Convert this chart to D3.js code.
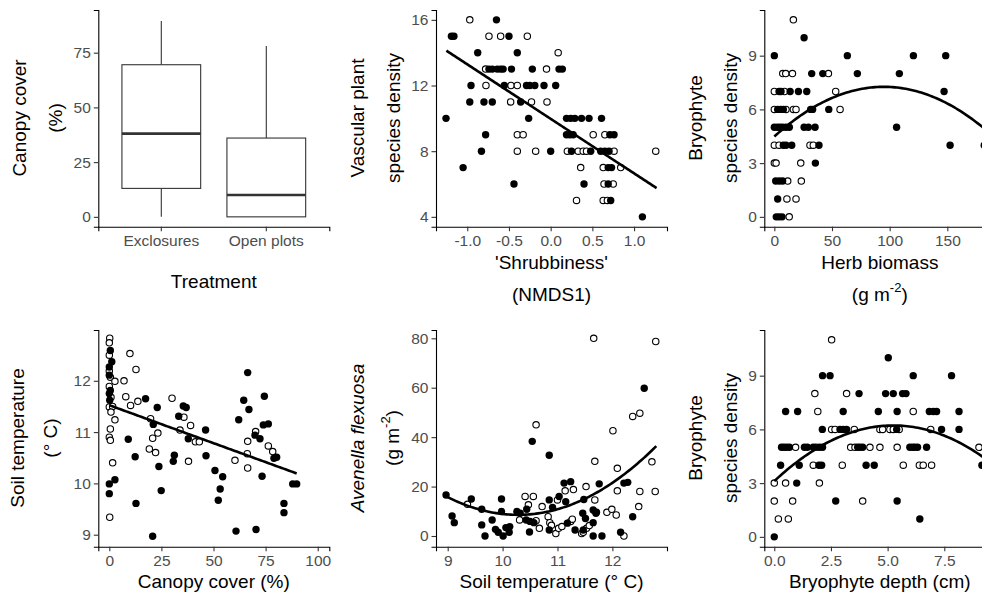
<!DOCTYPE html>
<html>
<head>
<meta charset="utf-8">
<script src="https://cdn.jsdelivr.net/npm/d3@7"></script>
<style>
  body { margin: 0; background: #fff; }
  svg { font-family: "Liberation Sans", Arial, sans-serif; }
</style>
</head>
<body>
<div id="chart"></div>
<script>
// Box plot: canopy cover by treatment
const boxCats = ["Exclosures", "Open plots"];
const boxMin = [0, 0];
const boxQ1 = [13, 0];
const boxMed = [38, 10];
const boxQ3 = [69.5, 36];
const boxMax = [89.5, 78];

// filled = exclosures, open = open plots
const vascExcl = [[-0.65,16],[-1.19,15],[-1.16,15],[-0.50,15],[-0.875,14],[-0.40,14],
  [-0.74,13],[-0.70,13],[-0.64,13],[-0.60,13],[-0.57,13],[-0.47,13],[-0.22,13],[0.10,13],[0.14,13],
  [-0.955,12],[-0.556,12],[-0.29,12],[-0.25,12],[-0.19,12],[-0.08,12],[0.06,12],
  [-0.97,11],[-0.80,11],[-0.70,11],[-0.36,11],
  [-1.255,10],[-0.264,10],[0.19,10],[0.24,10],[0.29,10],[0.37,10],[0.46,10],[0.61,10],
  [-0.78,9],[0.19,9],[0.23,9],[0.27,9],[0.71,9],[0.76,9],
  [-0.83,8],[0.0,8],[0.25,8],[0.48,8],[0.60,8],[0.65,8],[0.70,8],
  [-1.05,7],[0.69,7],[0.73,7],[-0.44,6],[0.40,6],[0.69,6],[0.72,5],[1.10,4]];
const vascOpen = [[-0.97,16],[-0.74,15],[-0.60,15],[-0.28,15],[0.09,14],[-0.78,13],[-0.05,13],
  [-0.776,12],[-0.476,12],[-0.40,12],[-0.48,11],[-0.23,11],[-0.044,11],
  [-0.40,9],[-0.33,9],[0.51,9],[0.65,9],
  [-0.40,8],[-0.18,8],[0.20,8],[0.33,8],[0.39,8],[0.43,8],[0.76,8],[1.26,8],
  [0.36,7],[0.63,7],[0.84,7],[0.64,6],[0.75,6],[0.31,5],[0.63,5],[0.68,5]];

const herbExcl = [[25.8,10],[0,9],[63.3,9],[120.6,9],[148.6,9],
  [32.4,8],[42,8],[72,8],[108.4,8],
  [4.1,7],[5.8,7],[13.7,7],[20.9,7],[28.1,7],[147.2,7],
  [2.9,6],[5.5,6],[7.8,6],[31.5,6],[33.2,6],[47.2,6],
  [0,5],[2.6,5],[4.9,5],[7.2,5],[10.1,5],[13,5],[25.8,5],[29.5,5],[35.3,5],[106,5],
  [7.8,4],[10.1,4],[15.1,4],[38.7,4],[152.4,4],[182,4],
  [35.6,3],[1.2,2],[4.3,2],[7.2,2],[2.9,1],[1.7,0],[4.1,0],[6.7,0]];
const herbOpen = [[16.5,11],[7.3,8],[9.9,8],[15.7,8],[46.9,8],[0,7],[8.8,7],[53.2,7],
  [0,6],[10.1,6],[16.5,6],[18.8,6],[57,6],[0,4],[4.1,4],[30.9,4],[33.8,4],
  [0,3],[1.5,3],[22.9,3],[11.6,2],[23.4,2],[10.9,1],[18.8,1],[12.9,0]];

const canopyExcl = [[0.5,12.59],[1.2,12.37],[0,12.27],[0,12.11],[0.5,11.81],[0,11.75],[0.2,11.62],
  [0,9.99],[2.7,10.07],[0,9.8],[17.4,11.65],[9.1,10.86],[12.4,10.52],[12.8,9.61],
  [21.1,11.15],[23.0,11.48],[23.8,10.33],[24.9,9.86],[20.8,8.97],
  [33.3,11.31],[35.5,11.51],[36.9,11.48],[37.9,10.87],[31.2,10.55],[30.7,10.43],
  [46.2,11.04],[46.4,10.54],[50.7,10.25],[54.4,10.13],[53.2,9.89],[52.3,9.67],
  [60.8,9.07],[66.4,12.16],[64.5,11.62],[67.0,11.44],[62.1,11.24],
  [69.9,10.94],[72.3,10.87],[70.4,9.10],[74.4,11.70],[73.9,11.14],[76.3,11.16],
  [79.0,10.49],[80.3,10.51],[73.3,10.14],[83.8,9.61],[83.8,9.43],[88.0,9.99],[89.9,9.99]];
const canopyOpen = [[0.2,12.83],[0,12.74],[0,12.5],[0,12.19],[0.5,12.07],[2.7,11.99],[0,11.89],
  [0.8,11.68],[0,11.49],[1.6,11.5],[0.8,11.39],[2.7,11.24],[0.5,11.06],[0,10.9],[0.5,10.84],
  [1.6,10.40],[0.2,9.34],[9.9,12.53],[12.8,12.22],[7.05,12.0],[7.9,11.69],[10.2,11.52],[13.7,11.6],
  [19.8,11.26],[20.8,10.88],[19.2,10.67],[22.2,10.6],[23.3,10.98],
  [30.1,11.66],[33.9,11.04],[35.8,11.29],[39.0,11.13],[41.3,10.81],[43.2,10.81],[38.0,10.43],
  [60.3,10.45],[66.4,10.82],[66.2,10.58],[66.4,10.30],[70.2,11.01],[76.3,10.73],[78.4,10.62]];

const avExcl = [[8.97,16.6],[9.08,8.1],[9.12,5.4],[9.43,15.0],[9.62,10.8],[9.62,4.5],[9.68,0],
  [9.81,6.5],[9.87,2.7],[9.92,1.5],[9.98,15.0],[9.98,9.9],[10.01,0],[10.06,3.4],[10.13,3.8],
  [10.12,1.5],[10.26,9.9],[10.32,9.2],[10.43,6.5],[10.44,10.8],[10.50,5.9],[10.49,1.6],
  [10.54,38.3],[10.57,5.4],[10.85,32.7],[10.85,14.6],[10.85,2.4],[10.91,11.6],[11.03,16.0],
  [11.12,21.4],[11.24,22.0],[11.15,13.9],[11.18,5.2],[11.32,2.4],[11.47,2.4],[11.46,9.2],
  [11.48,14.8],[11.51,7.1],[11.65,10.5],[11.70,9.2],[11.65,5.4],[11.65,0],[11.81,0],
  [11.71,9.6],[11.76,21.1],[12.15,1.5],[12.21,21.4],[12.28,21.7],[12.37,7.8],[12.58,59.8]];
const avOpen = [[9.36,12.8],[10.31,6.5],[10.41,16.0],[10.56,16.0],[10.47,12.6],[10.61,45.0],
  [10.61,6.2],[10.67,3.1],[10.72,11.9],[10.83,7.8],[10.86,5.4],[10.89,4.3],[10.97,1.0],
  [11.00,14.6],[11.02,3.1],[11.08,3.8],[11.14,18.3],[11.24,5.9],[11.29,18.8],[11.27,6.8],
  [11.44,1.0],[11.47,1.5],[11.52,20.0],[11.53,3.1],[11.58,4.2],[11.66,80.0],[11.68,30.2],
  [11.68,14.6],[11.90,9.6],[11.99,10.8],[12.07,8.5],[12.01,42.6],[12.09,27.4],[12.09,18.3],
  [12.21,0],[12.37,48.4],[12.50,49.7],[12.48,11.9],[12.50,18.0],[12.72,30.0],[12.78,18.0],[12.79,78.7]];

const depthExcl = [[5.03,10],[2.13,9],[2.46,9],[6.13,9],[7.82,9],
  [3.74,8],[4.91,8],[5.25,8],[5.66,8],[5.81,8],
  [0.5,7],[1.03,7],[3.04,7],[4.59,7],[5.42,7],[6.84,7],[7.02,7],[7.16,7],[8.15,7],
  [2.12,6],[2.9,6],[3.04,6],[3.19,6],[5.40,6],[7.38,6],[8.15,6],
  [0.32,5],[0.43,5],[0.55,5],[0.67,5],[1.33,5],[1.46,5],[1.72,5],[1.99,5],[2.13,5],
  [3.68,5],[3.78,5],[3.90,5],[5.98,5],[6.10,5],[6.20,5],[6.32,5],[6.72,5],
  [0.28,4],[1.10,4],[1.97,4],[2.09,4],[4.05,4],[4.41,4],[9.16,4],
  [0.99,3],[2.71,2],[5.42,2],[6.42,1],[0,0]];
const depthOpen = [[2.53,11],[1.79,8],[3.19,8],[1.92,7],[6.13,7],
  [2.53,6],[2.68,6],[3.53,6],[4.66,6],[4.78,6],[5.10,6],[5.25,6],[5.51,6],[6.90,6],
  [0.94,5],[1.84,5],[3.37,5],[3.56,5],[4.22,5],[4.66,5],[5.42,5],[9.03,5],
  [1.72,4],[3.0,4],[5.69,4],[6.40,4],[6.57,4],[6.94,4],
  [0,3],[0.5,3],[1.99,3],[0,2],[0.81,2],[3.90,2],[0.18,1],[0.62,1]];

// fitted model lines: polynomial coefficients [b0, b1, b2] and x range
const vascFit = [9.97, -3.32, 0], vascFitRange = [-1.25, 1.27];
const herbFit = [4.484, 0.05844, -3.076e-4], herbFitRange = [0, 190];
const canopyFit = [11.524, -0.01479, 0], canopyFitRange = [0, 89.9];
const avFit = [471.4, -90.05, 4.38], avFitRange = [8.96, 12.8];
const depthFit = [3.11, 1.184, -0.1127], depthFitRange = [0, 9.6];

const width = 982, height = 594;
const pw = 231;
const rows = [{top: 10, bottom: 226.7}, {top: 330, bottom: 546.7}];
const cols = [98.3, 436, 764.3];

const svg = d3.select("#chart").append("svg")
  .attr("width", width)
  .attr("height", height);

function styleAxis(a) {
  a.select(".domain").attr("stroke", "#000").attr("stroke-width", 1.1);
  a.selectAll(".tick line").attr("stroke", "#333").attr("stroke-width", 1.1);
  a.selectAll(".tick text").attr("fill", "#4D4D4D").style("font-size", "15.5px");
}

function drawAxes(g, x, y, xticks, yticks, xfmt, yfmt) {
  const xa = g.append("g")
    .attr("transform", `translate(0,${y.range()[0]})`)
    .call(d3.axisBottom(x).tickValues(xticks).tickFormat(xfmt).tickSizeOuter(0).tickSize(4.5).tickPadding(3.5));
  const ya = g.append("g")
    .attr("transform", `translate(${x.range()[0]},0)`)
    .call(d3.axisLeft(y).tickValues(yticks).tickFormat(yfmt).tickSizeOuter(0).tickSize(4.5).tickPadding(3));
  styleAxis(xa);
  styleAxis(ya);
}

function yTitle(lines, xs, cy, italicFirst) {
  lines.forEach((t, i) => {
    const txt = svg.append("text")
      .attr("transform", `translate(${xs[i]},${cy}) rotate(-90)`)
      .attr("text-anchor", "middle")
      .attr("dominant-baseline", "central")
      .style("font-size", "19px");
    if (typeof t === "string") {
      txt.text(t);
      if (italicFirst && i === 0) txt.style("font-style", "italic");
    } else t(txt);
  });
}

function xTitle(text, cx, cy) {
  const t = svg.append("text")
    .attr("x", cx).attr("y", cy)
    .attr("text-anchor", "middle")
    .attr("dominant-baseline", "central")
    .style("font-size", "19px");
  if (typeof text === "string") t.text(text); else text(t);
}

function gm2(t) {
  t.append("tspan").text("(g m");
  t.append("tspan").attr("dy", -7).style("font-size", "13px").text("-2");
  t.append("tspan").attr("dy", 7).text(")");
}

function scatter(g, x, y, excl, open, fit, range) {
  g.selectAll("circle.op").data(open).enter().append("circle")
    .attr("class", "op")
    .attr("cx", d => x(d[0])).attr("cy", d => y(d[1]))
    .attr("r", 3.2)
    .attr("fill", "#fff").attr("stroke", "#000").attr("stroke-width", 1.1);
  g.selectAll("circle.ex").data(excl).enter().append("circle")
    .attr("class", "ex")
    .attr("cx", d => x(d[0])).attr("cy", d => y(d[1]))
    .attr("r", 3.7)
    .attr("fill", "#000");
  const xs = d3.range(range[0], range[1], (range[1] - range[0]) / 100).concat([range[1]]);
  const line = d3.line()
    .x(d => x(d))
    .y(d => y(fit[0] + fit[1] * d + fit[2] * d * d));
  g.append("path").datum(xs)
    .attr("d", line)
    .attr("fill", "none").attr("stroke", "#000").attr("stroke-width", 2.6);
}

const f1 = d => d.toFixed(1);
const f0 = d => String(d);

// Panel 1: box plot
{
  const r = rows[0], left = cols[0];
  const x = d3.scaleBand().domain(boxCats).range([left, left + pw]).paddingInner(0).paddingOuter(0.1);
  const y = d3.scaleLinear().domain([-4.5, 94.5]).range([r.bottom, r.top]);
  const g = svg.append("g");
  const bw = 0.75 * x.step();
  boxCats.forEach((c, i) => {
    const cx = x(c) + x.bandwidth() / 2;
    g.append("line").attr("x1", cx).attr("x2", cx).attr("y1", y(boxQ3[i])).attr("y2", y(boxMax[i]))
      .attr("stroke", "#333").attr("stroke-width", 1.1);
    g.append("line").attr("x1", cx).attr("x2", cx).attr("y1", y(boxQ1[i])).attr("y2", y(boxMin[i]))
      .attr("stroke", "#333").attr("stroke-width", 1.1);
    g.append("rect").attr("x", cx - bw / 2).attr("width", bw)
      .attr("y", y(boxQ3[i])).attr("height", y(boxQ1[i]) - y(boxQ3[i]))
      .attr("fill", "#fff").attr("stroke", "#333").attr("stroke-width", 1.1);
    g.append("line").attr("x1", cx - bw / 2).attr("x2", cx + bw / 2).attr("y1", y(boxMed[i])).attr("y2", y(boxMed[i]))
      .attr("stroke", "#333").attr("stroke-width", 2.6);
  });
  const xa = g.append("g").attr("transform", `translate(0,${r.bottom})`)
    .call(d3.axisBottom(x).tickSizeOuter(0).tickSize(4.5).tickPadding(3.5));
  const ya = g.append("g").attr("transform", `translate(${left},0)`)
    .call(d3.axisLeft(y).tickValues([0, 25, 50, 75]).tickSizeOuter(0).tickSize(4.5).tickPadding(3));
  styleAxis(xa);
  styleAxis(ya);
  yTitle(["Canopy cover", "(%)"], [19, 55], 118);
  xTitle("Treatment", left + pw / 2, 281);
}

// Panel 2
{
  const r = rows[0], left = cols[1];
  const x = d3.scaleLinear().domain([-1.375, 1.395]).range([left, left + pw]);
  const y = d3.scaleLinear().domain([3.4, 16.6]).range([r.bottom, r.top]);
  const g = svg.append("g");
  scatter(g, x, y, vascExcl, vascOpen, vascFit, vascFitRange);
  drawAxes(g, x, y, [-1, -0.5, 0, 0.5, 1], [4, 8, 12, 16], f1, f0);
  yTitle(["Vascular plant", "species density"], [357.5, 393], 118);
  xTitle("'Shrubbiness'", left + pw / 2, 262);
  xTitle("(NMDS1)", left + pw / 2, 294);
}

// Panel 3
{
  const r = rows[0], left = cols[2];
  const x = d3.scaleLinear().domain([-8.7, 191.6]).range([left, left + pw]);
  const y = d3.scaleLinear().domain([-0.55, 11.55]).range([r.bottom, r.top]);
  const g = svg.append("g");
  scatter(g, x, y, herbExcl, herbOpen, herbFit, herbFitRange);
  drawAxes(g, x, y, [0, 50, 100, 150], [0, 3, 6, 9], f0, f0);
  yTitle(["Bryophyte", "species density"], [695, 730], 118);
  xTitle("Herb biomass", left + pw / 2, 262);
  xTitle(gm2, left + pw / 2, 294);
}

// Panel 4
{
  const r = rows[1], left = cols[0];
  const x = d3.scaleLinear().domain([-5.28, 105.56]).range([left, left + pw]);
  const y = d3.scaleLinear().domain([8.766, 12.99]).range([r.bottom, r.top]);
  const g = svg.append("g");
  scatter(g, x, y, canopyExcl, canopyOpen, canopyFit, canopyFitRange);
  drawAxes(g, x, y, [0, 25, 50, 75, 100], [9, 10, 11, 12], f0, f0);
  yTitle(["Soil temperature", "(\u00B0 C)"], [17.5, 50.5], 438);
  xTitle("Canopy cover (%)", left + pw / 2, 581);
}

// Panel 5
{
  const r = rows[1], left = cols[1];
  const x = d3.scaleLinear().domain([8.787, 12.995]).range([left, left + pw]);
  const y = d3.scaleLinear().domain([-4.33, 83.36]).range([r.bottom, r.top]);
  const g = svg.append("g");
  scatter(g, x, y, avExcl, avOpen, avFit, avFitRange);
  drawAxes(g, x, y, [9, 10, 11, 12], [0, 20, 40, 60, 80], f0, f0);
  yTitle(["Avenella flexuosa", gm2], [357.5, 391.5], 438, true);
  xTitle("Soil temperature (\u00B0 C)", left + pw / 2, 581);
}

// Panel 6
{
  const r = rows[1], left = cols[2];
  const x = d3.scaleLinear().domain([-0.44, 9.75]).range([left, left + pw]);
  const y = d3.scaleLinear().domain([-0.55, 11.55]).range([r.bottom, r.top]);
  const g = svg.append("g");
  scatter(g, x, y, depthExcl, depthOpen, depthFit, depthFitRange);
  drawAxes(g, x, y, [0, 2.5, 5, 7.5], [0, 3, 6, 9], f1, f0);
  yTitle(["Bryophyte", "species density"], [695, 730], 438);
  xTitle("Bryophyte depth (cm)", left + pw / 2, 581);
}
</script>
</body>
</html>
